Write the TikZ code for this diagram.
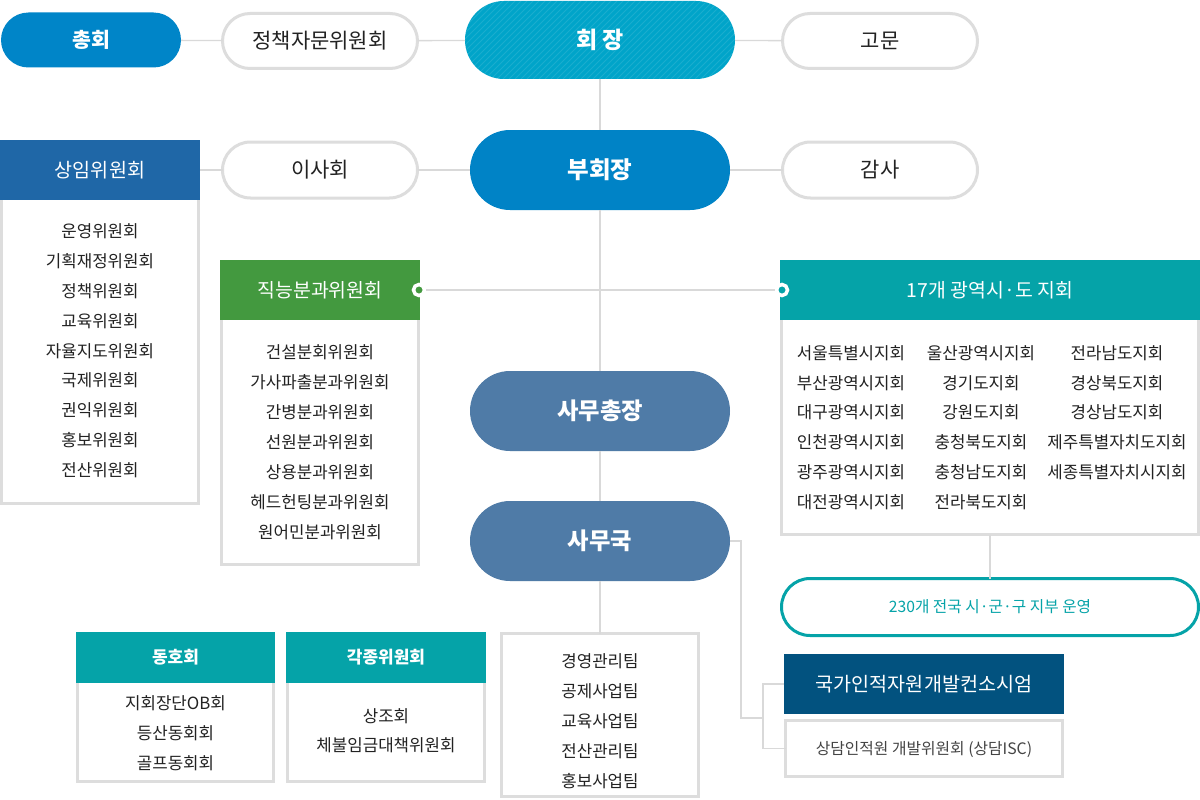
\documentclass[tikz,border=0pt]{standalone}
\usepackage{fontspec}
\setmainfont{Noto Sans CJK KR}
\newcommand\fsz[1]{\fontsize{#1}{#1}\selectfont}
\definecolor{cBlue}{HTML}{0085C8}
\definecolor{cCyan}{HTML}{00A4C9}
\definecolor{cVice}{HTML}{0083C6}
\definecolor{cNavy}{HTML}{1F67A7}
\definecolor{cGreen}{HTML}{43993F}
\definecolor{cTeal}{HTML}{05A3A8}
\definecolor{cSteel}{HTML}{4F7BA7}
\definecolor{cDark}{HTML}{02527F}
\definecolor{cLine}{HTML}{D9D9D9}
\definecolor{cBorder}{HTML}{DDDDDD}
\definecolor{cText}{HTML}{222222}
\definecolor{cGray}{HTML}{444444}
\tikzset{
  conn/.style={draw=cLine, line width=1.3pt},
  fs/.style={font=\fsz{#1}, text height=0.76*#1, text depth=0pt},
  bfs/.style={font=\bfseries\fsz{#1}, text height=0.76*#1, text depth=0pt},
  basenode/.style={inner sep=0pt, outer sep=0pt, align=center},
  fillbox/.style={basenode, rectangle, text=white},
  linebox/.style={basenode, rectangle, draw=cBorder, line width=3pt, fill=white, text=cText},
  item/.style={basenode, text=cText, fs=16.8},
  dotnode/.style={circle, draw=white, line width=3.5pt, minimum size=11, inner sep=0pt}
}
\begin{document}
\begin{tikzpicture}[x=1pt,y=-1pt]
\useasboundingbox[fill=white] (0,0) rectangle (1200,800);

% ---- top row
\node[fillbox, fill=cBlue, minimum width=180, minimum height=55, rounded corners=27.5, bfs=20.5] (chonghoe) at (91,40) {총회};
\node[linebox, minimum width=195, minimum height=55, rounded corners=27.5, fs=21] (jeongchaek) at (320,41) {정책자문위원회};
\node[fillbox, fill=cCyan, minimum width=270, minimum height=78, rounded corners=39, bfs=23,
  path picture={\foreach \k in {-100,-94,...,300} \draw[white, opacity=0.10, line width=1pt] ([xshift=\k pt]path picture bounding box.south west) -- ++(90,-90);}] (hoejang) at (600,40) {회 장};
\node[linebox, minimum width=195, minimum height=55, rounded corners=27.5, fs=21] (gomun) at (880,41) {고문};

% ---- second row
\node[linebox, minimum width=195, minimum height=56, rounded corners=28, fs=21] (isahoe) at (320,170) {이사회};
\node[fillbox, fill=cVice, minimum width=260, minimum height=80, rounded corners=40, bfs=23.5] (buhoe) at (600,170) {부회장};
\node[linebox, minimum width=195, minimum height=56, rounded corners=28, fs=21] (gamsa) at (880,170) {감사};

% ---- 상임위원회
\node[linebox, minimum width=197, minimum height=305] (sangimbody) at (100,351) {};
\node[fillbox, fill=cNavy, minimum width=200, minimum height=60, fs=19.6] (sangimhead) at (100,170) {상임위원회};
\foreach \t [count=\i from 0] in {운영위원회,기획재정위원회,정책위원회,교육위원회,자율지도위원회,국제위원회,권익위원회,홍보위원회,전산위원회}
  \node[item] (sangim\i) at (100,231.5+29.8*\i) {\t};

% ---- 직능분과위원회
\node[linebox, minimum width=197, minimum height=246] (jikbody) at (320,441.5) {};
\node[fillbox, fill=cGreen, minimum width=200, minimum height=60, fs=19.4] (jikhead) at (320,290) {직능분과위원회};
\foreach \t [count=\i from 0] in {건설분회위원회,가사파출분과위원회,간병분과위원회,선원분과위원회,상용분과위원회,헤드헌팅분과위원회,원어민분과위원회}
  \node[item] (jik\i) at (320,352+30*\i) {\t};

% ---- 17개 광역시·도 지회
\node[linebox, minimum width=417, minimum height=216] (jibody) at (990,426.5) {};
\node[fillbox, fill=cTeal, minimum width=420, minimum height=60, fs=19.4] (jihead) at (990,290) {17개 광역시·도 지회};
\foreach \t [count=\i from 0] in {서울특별시지회,부산광역시지회,대구광역시지회,인천광역시지회,광주광역시지회,대전광역시지회}
  \node[item] (jiA\i) at (851,353+29.8*\i) {\t};
\foreach \t [count=\i from 0] in {울산광역시지회,경기도지회,강원도지회,충청북도지회,충청남도지회,전라북도지회}
  \node[item] (jiB\i) at (981,353+29.8*\i) {\t};
\foreach \t [count=\i from 0] in {전라남도지회,경상북도지회,경상남도지회,제주특별자치도지회,세종특별자치시지회}
  \node[item] (jiC\i) at (1117,353+29.8*\i) {\t};

% ---- dots
\node[dotnode, fill=cGreen] (dotL) at (419,290) {};
\node[dotnode, fill=cTeal] (dotR) at (782,290) {};

% ---- 사무총장 / 사무국
\node[fillbox, fill=cSteel, minimum width=260, minimum height=80, rounded corners=40, bfs=23.3] (samuchong) at (600,411) {사무총장};
\node[fillbox, fill=cSteel, minimum width=260, minimum height=80, rounded corners=40, bfs=23.3] (samuguk) at (600,541) {사무국};

% ---- teams box
\node[linebox, minimum width=197, minimum height=163] (teambox) at (600,715) {};
\foreach \t [count=\i from 0] in {경영관리팀,공제사업팀,교육사업팀,전산관리팀,홍보사업팀}
  \node[item] (team\i) at (600,661.5+29.8*\i) {\t};

% ---- 230 pill
\node[linebox, draw=cTeal, minimum width=417, minimum height=57, rounded corners=28.5, text=cTeal, fs=15.7] (pill230) at (990,607) {230개 전국 시·군·구 지부 운영};

% ---- 국가인적자원개발컨소시엄
\node[fillbox, fill=cDark, minimum width=280, minimum height=60, fs=19.6] (kukga) at (924,684) {국가인적자원개발컨소시엄};
\node[linebox, minimum width=277, minimum height=56, text=cGray, fs=15.8] (sangdam) at (924,748.5) {상담인적원 개발위원회 (상담ISC)};

% ---- 동호회 / 각종위원회
\node[linebox, minimum width=196, minimum height=100] (dongbody) at (175.5,731.5) {};
\node[fillbox, fill=cTeal, minimum width=199, minimum height=51, bfs=17] (donghead) at (175.5,657.5) {동호회};
\foreach \t [count=\i from 0] in {지회장단OB회,등산동회회,골프동회회}
  \node[item] (dong\i) at (175.5,703+30*\i) {\t};
\node[linebox, minimum width=197, minimum height=100] (gakbody) at (386,731.5) {};
\node[fillbox, fill=cTeal, minimum width=200, minimum height=51, bfs=17] (gakhead) at (386,657.5) {각종위원회};
\node[item] (gak0) at (386,716.5) {상조회};
\node[item] (gak1) at (386,745.5) {체불임금대책위원회};

% ---- connectors
\draw[conn] (chonghoe) -- (jeongchaek);
\draw[conn] (jeongchaek) -- (hoejang);
\draw[conn] (hoejang) -- (gomun);
\draw[conn] (hoejang) -- (buhoe);
\draw[conn] (sangimhead) -- (isahoe);
\draw[conn] (isahoe) -- (buhoe);
\draw[conn] (buhoe) -- (gamsa);
\draw[conn] (buhoe) -- (samuchong);
\draw[conn] (samuchong) -- (samuguk);
\draw[conn] (samuguk) -- (teambox);
\draw[conn] (dotL) -- (dotR);
\draw[conn] (jibody) -- (pill230);
\coordinate (turn) at (741,718);
\coordinate (brk) at (763,718);
\draw[conn] (samuguk.east) -| (turn) -- (brk);
\draw[conn] (kukga.west) -| (brk) |- (sangdam.west);
\end{tikzpicture}
\end{document}
